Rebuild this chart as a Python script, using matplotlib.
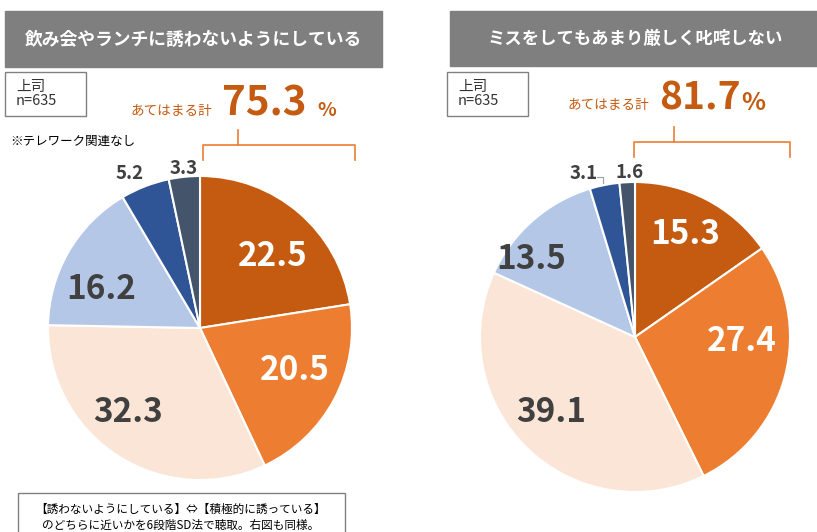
import matplotlib.pyplot as plt
from matplotlib.patches import Rectangle
import numpy as np

plt.rcParams['font.family'] = ['Noto Sans CJK JP', 'DejaVu Sans']

# データ
titles = ['飲み会やランチに誘わないようにしている', 'ミスをしてもあまり厳しく叱咤しない']
left_vals = [22.5, 20.5, 32.3, 16.2, 5.2, 3.3]
right_vals = [15.3, 27.4, 39.1, 13.5, 3.1, 1.6]
totals = ['75.3', '81.7']
n_label = '上司\nn=635'
colors = ['#C55A11', '#ED7D31', '#FBE5D6', '#B4C7E7', '#2F5597', '#44546A']
txt_colors = ['white', 'white', '#404040', '#404040', '#404040', '#404040']

# ラベル位置 (半径, 中央角からのずれ[度])
left_pos = [(0.68, -4), (0.68, 5), (0.72, -8), (0.70, 8), (1.13, 3), (1.065, 0)]
right_pos = [(0.745, 2), (0.69, 13), (0.72, -4.5), (0.84, 11.5), (1.12, 6), (1.075, -1)]

W, H = 817, 532
fig = plt.figure(figsize=(W / 100, H / 100), dpi=100)
bg = fig.add_axes([0, 0, 1, 1])
bg.set_xlim(0, W)
bg.set_ylim(H, 0)
bg.axis('off')

orange = '#C55A11'
gray = '#7F7F7F'

# タイトル帯
bg.add_patch(Rectangle((5, 11), 377, 56, color=gray))
bg.text(193, 40, titles[0], color='white', fontsize=12.8, fontweight='bold', ha='center', va='center')
bg.add_patch(Rectangle((450, 11), 367, 55, color=gray))
bg.text(635, 39, titles[1], color='white', fontsize=12.5, fontweight='bold', ha='center', va='center')

# n ボックス
for x0 in [5, 447]:
    bg.add_patch(Rectangle((x0, 72), 81, 44, facecolor='white', edgecolor='#808080', lw=1))
    bg.text(x0 + 11, 94, n_label, fontsize=10.5, ha='left', va='center', color='#333333', linespacing=1.0)

# あてはまる計
bg.text(212, 111, 'あてはまる計', color=orange, fontsize=9.8, ha='right', va='center')
bg.text(222, 104, totals[0], color=orange, fontsize=29, fontweight='bold', ha='left', va='center')
bg.text(317, 110, '%', color=orange, fontsize=14, fontweight='bold', ha='left', va='center')
bg.text(649, 105, 'あてはまる計', color=orange, fontsize=9.8, ha='right', va='center')
bg.text(659, 98, totals[1], color=orange, fontsize=28, fontweight='bold', ha='left', va='center')
bg.text(741, 103, '%', color=orange, fontsize=18, fontweight='bold', ha='left', va='center')

# 括弧
bc = '#ED7D31'
bg.plot([203, 203, 355, 355], [160, 145, 145, 160], color=bc, lw=1.2)
bg.plot([238, 238], [130, 145], color=bc, lw=1.2)
bg.plot([634, 634, 790, 790], [157, 142, 142, 157], color=bc, lw=1.2)
bg.plot([674, 674], [127, 142], color=bc, lw=1.2)

bg.text(10, 141, '※テレワーク関連なし', fontsize=9, ha='left', va='center', color='black')

# 注記
bg.add_patch(Rectangle((18, 493), 327, 45, facecolor='white', edgecolor='#808080', lw=1))
bg.text(181, 517, '【誘わないようにしている】⇔【積極的に誘っている】\nのどちらに近いかを6段階SD法で聴取。右図も同様。',
        fontsize=8.4, ha='center', va='center', color='black', linespacing=1.3)


def draw_pie(cx, cy, r, vals, pos, fs_in, fs_out):
    ax = fig.add_axes([(cx - r) / W, (H - cy - r) / H, 2 * r / W, 2 * r / H])
    ax.pie(vals, colors=colors, startangle=90, counterclock=False,
           wedgeprops=dict(edgecolor='white', linewidth=1.5))
    ax.set_xlim(-1, 1)
    ax.set_ylim(-1, 1)
    ax.axis('off')
    cum = np.cumsum([0] + vals[:-1])
    for i, v in enumerate(vals):
        rr, off = pos[i]
        ang = np.deg2rad(90 - (cum[i] + v / 2) * 3.6 + off)
        ax.text(rr * np.cos(ang), rr * np.sin(ang) - 0.012, f'{v:.1f}', ha='center', va='center',
                color=txt_colors[i], fontsize=fs_in if i < 4 else fs_out, fontweight='bold')
    for a in ax.patches:
        a.set_clip_on(False)
    return ax


axl = draw_pie(200, 328, 152, left_vals, left_pos, 24, 13.5)
axr = draw_pie(635, 337, 155, right_vals, right_pos, 24, 13.5)
# 3.1 の引出線
axr.plot([-0.245, -0.206, -0.206], [1.03, 1.03, 0.995], color='#A0A0A0', lw=0.8, clip_on=False)

fig.savefig('out.png', dpi=100)
